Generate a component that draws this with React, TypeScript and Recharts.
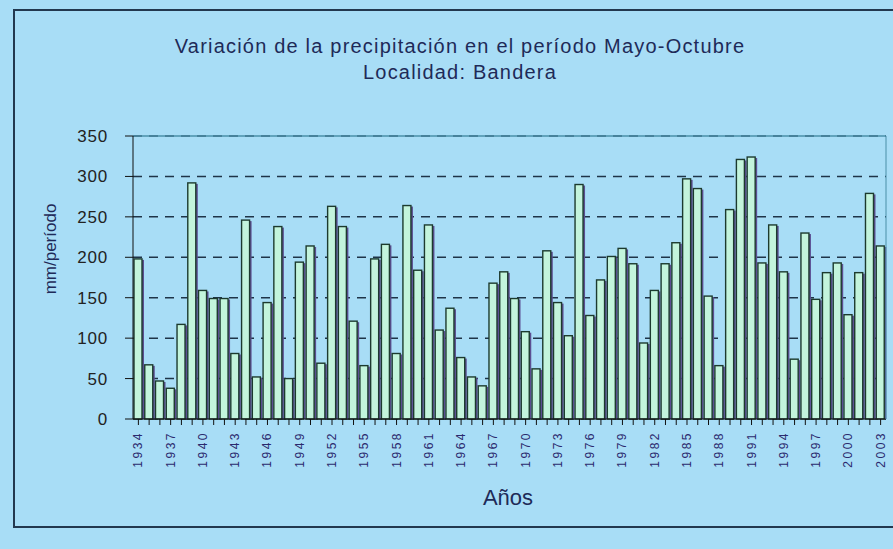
import { Bar, BarChart, CartesianGrid, ReferenceLine, XAxis, YAxis } from 'recharts'

const years = [
  '1934', '1935', '1936', '1937', '1938', '1939', '1940', '1941', '1942', '1943',
  '1944', '1945', '1946', '1947', '1948', '1949', '1950', '1951', '1952', '1953',
  '1954', '1955', '1956', '1957', '1958', '1959', '1960', '1961', '1962', '1963',
  '1964', '1965', '1966', '1967', '1968', '1969', '1970', '1971', '1972', '1973',
  '1974', '1975', '1976', '1977', '1978', '1979', '1980', '1981', '1982', '1983',
  '1984', '1985', '1986', '1987', '1988', '1989', '1990', '1991', '1992', '1993',
  '1994', '1995', '1996', '1997', '1998', '1999', '2000', '2001', '2002', '2003',
]

// mm por período Mayo-Octubre
const precipitation = [
  198, 67, 47, 38, 117, 292, 159, 149, 149, 81,
  246, 52, 144, 238, 50, 194, 214, 69, 263, 238,
  121, 66, 198, 216, 81, 264, 184, 240, 110, 137,
  76, 52, 41, 168, 182, 149, 108, 62, 208, 144,
  103, 290, 128, 172, 201, 211, 192, 94, 159, 192,
  218, 297, 285, 152, 66, 259, 321, 324, 193, 240,
  182, 74, 230, 148, 181, 193, 129, 181, 279, 214,
]

const yTicks = [0, 50, 100, 150, 200, 250, 300, 350]

const data = years.map((year, i) => ({ year, mm: precipitation[i] }))

const BG = '#a8ddf6'
const TEXT = '#1e2a58'
const FONT = 'Arial, "Liberation Sans", sans-serif'

const ExcelBar = (props: any) => {
  const { x, y, width, height } = props
  if (!height || height <= 0) return null
  return (
    <g>
      <rect x={x + width} y={y + 1} width={2} height={height - 1} fill="#5c4f92" />
      <rect
        x={x}
        y={y}
        width={width}
        height={height}
        fill="#c3f4dc"
        stroke="#1c3a2e"
        strokeWidth={1.4}
      />
    </g>
  )
}

const YearTick = (props: any) => {
  const { x, y, payload, index } = props
  if (index % 3 !== 0) return null
  const ty = y + 4
  return (
    <text
      x={x}
      y={ty}
      transform={`rotate(-90 ${x} ${ty})`}
      textAnchor="end"
      dominantBaseline="central"
      fontSize={12}
      letterSpacing={2.5}
      fontFamily={FONT}
      fill="#2b2a6e"
    >
      {payload.value}
    </text>
  )
}

export default function App() {
  return (
    <div
      style={{
        position: 'absolute',
        left: 0,
        top: 0,
        width: 893,
        height: 549,
        background: BG,
        overflow: 'hidden',
        fontFamily: FONT,
      }}
    >
      <div
        style={{
          position: 'absolute',
          left: 13,
          top: 9,
          width: 920,
          height: 515,
          border: '2px solid #22384f',
        }}
      />
      <div style={{ position: 'absolute', left: 0, top: 0 }}>
        <BarChart
          width={893}
          height={549}
          data={data}
          margin={{ top: 136, right: 6, bottom: 70, left: 40 }}
          barSize={8}
        >
          <CartesianGrid
            horizontal
            vertical={false}
            stroke="#1e3448"
            strokeDasharray="9 7"
            strokeWidth={1.5}
          />
          <ReferenceLine y={350} stroke="#4a8fa8" strokeWidth={1.5} />
          <XAxis
            dataKey="year"
            interval={0}
            tick={<YearTick />}
            tickSize={6}
            height={60}
            stroke="#111"
            tickLine={{ stroke: '#111' }}
          />
          <YAxis
            domain={[0, 350]}
            ticks={yTicks}
            interval={0}
            width={93}
            tickSize={8}
            tickMargin={17}
            stroke="#111"
            tick={{ fill: '#222', fontSize: 17, letterSpacing: 0.8, fontFamily: FONT }}
          />
          <YAxis
            yAxisId="border"
            orientation="right"
            domain={[0, 350]}
            width={1}
            tick={false}
            tickLine={false}
            stroke="#4a8fa8"
          />
          <Bar dataKey="mm" shape={<ExcelBar />} isAnimationActive={false} />
        </BarChart>
      </div>
      <svg
        width={893}
        height={549}
        style={{ position: 'absolute', left: 0, top: 0, pointerEvents: 'none' }}
        fontFamily={FONT}
        fill={TEXT}
      >
        <text x={460} y={53} textAnchor="middle" fontSize={20} letterSpacing={1.2}>
          Variación de la precipitación en el período Mayo-Octubre
        </text>
        <text x={460} y={79} textAnchor="middle" fontSize={20} letterSpacing={1.2}>
          Localidad: Bandera
        </text>
        <text
          x={50}
          y={249}
          textAnchor="middle"
          dominantBaseline="central"
          transform="rotate(-90 50 249)"
          fontSize={17}
        >
          mm/período
        </text>
        <text x={508} y={497} textAnchor="middle" dominantBaseline="central" fontSize={22}>
          Años
        </text>
      </svg>
    </div>
  )
}
